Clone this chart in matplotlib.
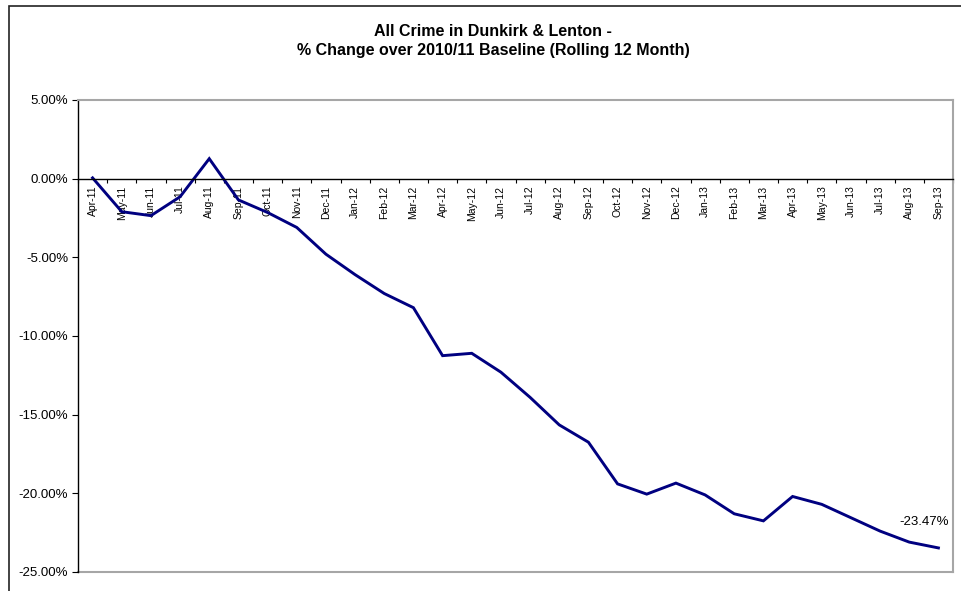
import matplotlib.pyplot as plt
from matplotlib.patches import Rectangle
from matplotlib.ticker import FuncFormatter, FixedLocator

plt.rcParams['font.family'] = ['Liberation Sans', 'DejaVu Sans']

# Months (rolling 12 month periods)
months = ["Apr-11", "May-11", "Jun-11", "Jul-11", "Aug-11", "Sep-11",
          "Oct-11", "Nov-11", "Dec-11", "Jan-12", "Feb-12", "Mar-12",
          "Apr-12", "May-12", "Jun-12", "Jul-12", "Aug-12", "Sep-12",
          "Oct-12", "Nov-12", "Dec-12", "Jan-13", "Feb-13", "Mar-13",
          "Apr-13", "May-13", "Jun-13", "Jul-13", "Aug-13", "Sep-13"]

# % change over 2010/11 baseline
pct_change = [0.05, -2.1, -2.35, -1.15, 1.27, -1.35,
              -2.15, -3.1, -4.8, -6.1, -7.3, -8.2,
              -11.25, -11.1, -12.3, -13.9, -15.65, -16.75,
              -19.4, -20.05, -19.35, -20.1, -21.3, -21.75,
              -20.2, -20.7, -21.55, -22.4, -23.1, -23.47]

y_ticks = [5, 0, -5, -10, -15, -20, -25]

fig = plt.figure(figsize=(9.61, 5.91), dpi=100)
ax = fig.add_axes([78 / 961, 1 - 572 / 591, (953 - 78) / 961, (572 - 100) / 591])

x = list(range(len(months)))
ax.plot(x, pct_change, color='#000080', lw=2.1, solid_joinstyle='miter')

ax.set_xlim(-0.5, len(months) - 0.5)
ax.set_ylim(-25, 5)

# y axis
ax.set_yticks(y_ticks)
ax.yaxis.set_major_formatter(FuncFormatter(lambda v, p: f"{v:.2f}%"))
ax.tick_params(axis='y', direction='out', length=4, width=0.8, labelsize=9.5,
               pad=3, colors='black')

# x axis sits on the zero line, ticks between categories
ax.spines['bottom'].set_position(('data', 0))
ax.spines['bottom'].set_color('black')
ax.spines['bottom'].set_linewidth(1.0)
ax.xaxis.set_major_locator(FixedLocator([i - 0.5 for i in range(len(months) + 1)]))
ax.xaxis.set_major_formatter(FuncFormatter(lambda v, p: ""))
ax.xaxis.set_minor_locator(FixedLocator(x))
ax.set_xticklabels(months, minor=True, rotation=90, fontsize=7.5)
ax.tick_params(axis='x', which='major', direction='out', length=3, width=0.8)
ax.tick_params(axis='x', which='minor', length=0, pad=5)
for lab in ax.get_xticklabels(minor=True):
    lab.set_verticalalignment('top')

ax.spines['left'].set_color('black')
ax.spines['left'].set_linewidth(1.0)
ax.spines['top'].set_color('#a6a6a6')
ax.spines['right'].set_color('#a6a6a6')
ax.spines['top'].set_linewidth(1.5)
ax.spines['right'].set_linewidth(1.5)
ax.axhline(-25, color='#a6a6a6', lw=1.5, clip_on=False, zorder=0)

# label on last point
ax.annotate(f"{pct_change[-1]:.2f}%", (x[-1], pct_change[-1]),
            xytext=(-10, 19), textcoords='offset points',
            ha='center', va='center', fontsize=9.5)

fig.text(493 / 961, 1 - 31 / 591, "All Crime in Dunkirk & Lenton -",
         ha='center', va='center', fontsize=11.5, fontweight='bold')
fig.text(493 / 961, 1 - 50 / 591, "% Change over 2010/11 Baseline (Rolling 12 Month)",
         ha='center', va='center', fontsize=11.5, fontweight='bold')

# chart area border
fig.patches.append(Rectangle((9 / 961, -0.05), 1.2, 1 - 6 / 591 + 0.05,
                             transform=fig.transFigure, fill=False,
                             edgecolor='#222222', lw=1.2))

fig.savefig("out.png", dpi=100)
